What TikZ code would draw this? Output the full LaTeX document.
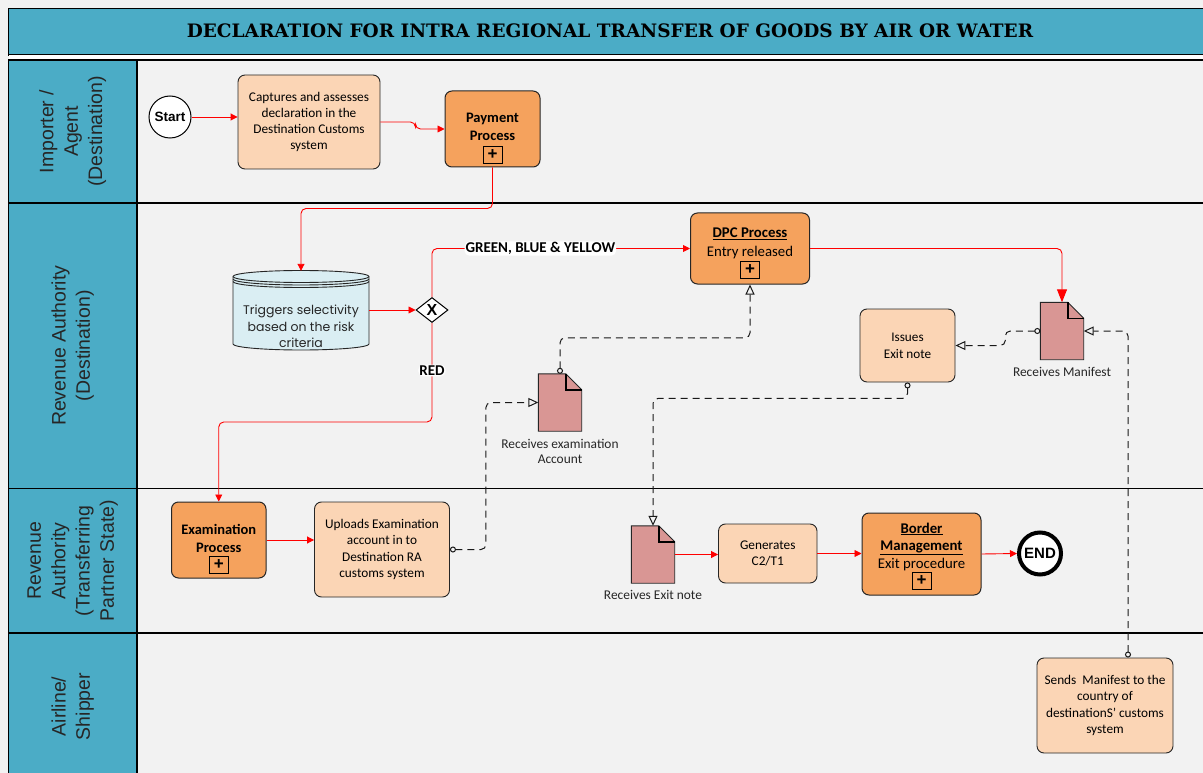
\documentclass[tikz,border=0pt]{standalone}
\usepackage{fontspec}
\setmainfont{Carlito}
\newfontfamily\lanefont{Liberation Sans}
\newfontfamily\titlefont{DejaVu Serif}
\newfontfamily\cylfont{Poppins}
\usetikzlibrary{arrows.meta,shapes.geometric}

\definecolor{lanecol}{HTML}{4BACC6}
\definecolor{bgcol}{HTML}{F2F2F2}
\definecolor{taskcol}{HTML}{FBD5B5}
\definecolor{subcol}{HTML}{F5A25D}
\definecolor{doccol}{HTML}{D99694}
\definecolor{cylcol}{HTML}{DAEEF3}

\tikzset{
  lanehead/.style={draw, line width=1.2pt, fill=lanecol, rotate=90, align=center,
    font=\lanefont\fontsize{19.5}{24.3}\selectfont, text=black!85},
  task/.style={draw=black!85, line width=0.9pt, fill=taskcol, rounded corners=7pt,
    align=center, inner sep=0pt, font=\fontsize{13.3}{16.3}\selectfont},
  sub/.style={task, fill=subcol, line width=1pt},
  subtxt/.style={align=center, inner sep=0pt, font=\bfseries\fontsize{14.5}{18}\selectfont},
  plusbox/.style={draw, line width=1pt, minimum width=19pt, minimum height=17pt,
    inner sep=0pt, font=\lanefont\bfseries\fontsize{17}{17}\selectfont},
  docnode/.style={minimum width=43pt, minimum height=57pt, inner sep=0pt},
  doclabel/.style={align=center, label distance=4pt, font=\fontsize{13.4}{16}\selectfont, text=black!85},
  flow/.style={draw=red, line width=0.9pt, rounded corners=5pt, -{Triangle[length=7pt,width=7pt]}},
  msg/.style={draw=black!90, line width=1pt, dash pattern=on 7pt off 5pt, rounded corners=5pt,
    {Circle[open,length=6pt,width=6pt]}-{Triangle[open,length=10pt,width=9pt]}},
  lbl/.style={fill=white, inner sep=1pt, font=\bfseries\fontsize{15}{16}\selectfont}
}

\begin{document}
\begin{tikzpicture}[x=1pt,y=-1pt]
  \useasboundingbox (0,0) rectangle (1203,773);
  \fill[bgcol] (0,0) rectangle (1203,773);

  % title bar
  \draw[line width=1.2pt, fill=lanecol] (8.5,8.5) rectangle (1210,55);
  \node[font=\titlefont\bfseries\fontsize{18.5}{20}\selectfont] (title) at (610,31)
    {DECLARATION FOR INTRA REGIONAL TRANSFER OF GOODS BY AIR OR WATER};
  \fill[white] (8.5,55) rectangle (1210,60);
  \draw[line width=1pt] (8.5,60) -- (1210,60);

  % lanes
  \foreach \i/\ta/\tb/\txt in {1/60/203/{Importer /\\Agent\\(Destination)},
      2/203/488.5/{Revenue Authority\\(Destination)},
      3/488.5/633/{Revenue\\Authority\\(Transferring\\Partner State)},
      4/633/780/{Airline/\\Shipper}}{
    \draw[line width=1.2pt, fill=bgcol] (137,\ta) rectangle (1210,\tb);
    \node[lanehead, minimum width=\tb-\ta, minimum height=128.5] (lane\i)
      at (72.75,{(\ta+\tb)/2}) {\txt};
  }

  % importer / agent
  \node[circle, draw, line width=1pt, fill=white, minimum size=42pt, inner sep=0pt,
    font=\lanefont\bfseries\fontsize{13.5}{14}\selectfont] (start) at (170,117) {Start};
  \node[task, minimum width=142, minimum height=94] (cap) at (309,122)
    {Captures and assesses\\declaration in the\\Destination Customs\\system};
  \node[sub, minimum width=95, minimum height=76] (pay) at (492.5,129) {};
  \node[subtxt] (paytxt) at (492.5,127) {Payment\\Process};
  \node[plusbox] (payplus) at (492.5,155) {+};

  % revenue authority (destination)
  \node[minimum width=136, minimum height=79, inner sep=0pt] (trig) at (301,310.5) {};
  \filldraw[fill=cylcol, draw=black!85, line width=0.9pt] (233,276.5) -- (233,344)
    arc[start angle=180, end angle=360, x radius=68pt, y radius=6pt] -- (369,276.5)
    arc[start angle=0, end angle=180, x radius=68pt, y radius=6pt] -- cycle;
  \foreach \d in {0,2.5,5}
    \draw[black!85, line width=0.9pt] (233,{276.5+\d})
      arc[start angle=180, end angle=360, x radius=68pt, y radius=6pt];
  \node[align=center, inner sep=0pt, text=black!85,
    font=\cylfont\fontsize{12.5}{16.5}\selectfont] (trigtxt) at (301,326.5)
    {Triggers selectivity\\based on the risk\\criteria};
  \node[diamond, draw, line width=1pt, fill=white, minimum width=32, minimum height=25,
    inner sep=0pt, font=\lanefont\bfseries\fontsize{16}{16}\selectfont] (gw) at (432,310) {X};

  \node[sub, minimum width=119, minimum height=71] (dpc) at (750,248.5) {};
  \node[align=center, inner sep=0pt, font=\fontsize{14.8}{19}\selectfont] (dpctxt) at (750,243.5)
    {\textbf{\underline{DPC Process}}\\Entry released};
  \node[plusbox] (dpcplus) at (750,270) {+};

  \node[task, minimum width=95, minimum height=73, font=\fontsize{13.2}{17}\selectfont] (iss)
    at (907.5,345.5) {Issues\\Exit note};

  \node[docnode, label={[doclabel]below:{Receives examination\\Account}}] (exdoc) at (560,402.5) {};
  \node[docnode, label={[doclabel]below:{Receives Manifest}}] (mandoc) at (1062,331) {};

  % revenue authority (transferring partner state)
  \node[sub, minimum width=94.5, minimum height=76] (exam) at (218.75,540) {};
  \node[subtxt] (examtxt) at (218.75,538) {Examination\\Process};
  \node[plusbox] (examplus) at (218.75,564.5) {+};
  \node[task, minimum width=135, minimum height=95] (upl) at (382,549.5)
    {Uploads Examination\\account in to\\Destination RA\\customs system};

  \node[docnode, label={[doclabel]below:{Receives Exit note}}] (exitdoc) at (653,554.5) {};
  \node[task, minimum width=98.5, minimum height=59, font=\fontsize{13.3}{16}\selectfont] (gen)
    at (767.75,553.5) {Generates\\C2/T1};
  \node[sub, minimum width=119, minimum height=82] (bor) at (921.5,554) {};
  \node[align=center, inner sep=0pt, font=\fontsize{14.8}{17.5}\selectfont] (bortxt) at (921.5,546.5)
    {\textbf{\underline{Border}}\\\textbf{\underline{Management}}\\Exit procedure};
  \node[plusbox] (borplus) at (921.5,580.5) {+};
  \node[circle, draw, line width=4pt, fill=white, minimum size=42pt, inner sep=0pt,
    font=\lanefont\bfseries\fontsize{15}{16}\selectfont] (endn) at (1040,553.5) {END};

  % airline / shipper
  \node[task, minimum width=136, minimum height=95] (send) at (1105,705.5)
    {Sends~ Manifest to the\\country of\\destinationS’ customs\\system};

  % documents
  \foreach \d in {exdoc,mandoc,exitdoc}{
    \filldraw[fill=doccol, draw=black!85, line width=0.9pt] (\d.south west) -- (\d.north west)
      -- ([xshift=-16pt]\d.north east) -- ([yshift=-16pt]\d.north east) -- (\d.south east) -- cycle;
    \draw[line width=1.6pt] ([xshift=-16pt]\d.north east) -- ([xshift=-16pt,yshift=-16pt]\d.north east)
      -- ([yshift=-16pt]\d.north east);
  }

  % sequence flows
  \draw[flow] (start.east) -- (start.east -| cap.west);
  \draw[flow] (cap.east) -- ++(35,0) |- (pay.west);
  \draw[flow] (pay.south) -- ++(0,41) -| (trig.north);
  \draw[flow] (trig.east |- gw.west) -- (gw.west);
  \draw[flow] (gw.north) |- node[lbl, pos=0.71] {GREEN, BLUE \& YELLOW} (dpc.west);
  \draw[flow] (gw.south) -- node[lbl, pos=0.48] {RED} ++(0,99) -| (exam.north);
  \draw[flow, -{Triangle[length=13pt,width=10pt]}] (dpc.east) -| (mandoc.north);
  \draw[flow] (exam.east) -- (exam.east -| upl.west);
  \draw[flow] (exitdoc.east) -- (exitdoc.east -| gen.west);
  \draw[flow] (gen.east) -- (gen.east -| bor.west);
  \draw[flow] (bor.east) -- (endn.west);

  % message flows
  \draw[msg] (upl.east) -- ++(36,0) |- (exdoc.west);
  \draw[msg] (exdoc.north) -- ++(0,-36) -| (dpc.south);
  \draw[msg] ([xshift=23pt]send.north) |- (mandoc.east);
  \draw[msg] (mandoc.west) -- ++(-35,0) |- (iss.east);
  \draw[msg] (iss.south) -- ++(0,16) -| (exitdoc.north);
\end{tikzpicture}
\end{document}
